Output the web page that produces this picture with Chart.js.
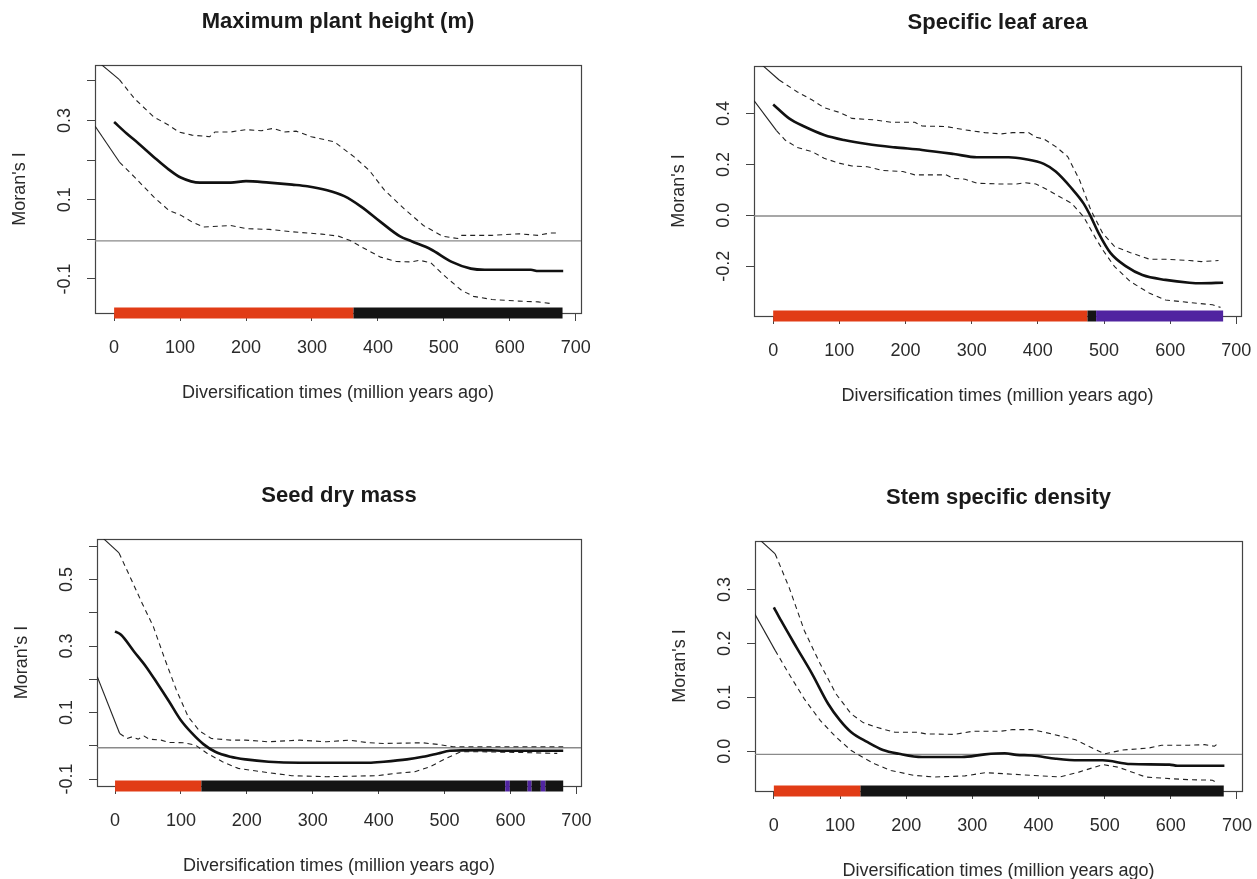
<!DOCTYPE html>
<html>
<head>
<meta charset="utf-8">
<script src="https://cdn.jsdelivr.net/npm/chart.js@4"></script>
<style>
  body { margin: 0; background: #fff; }
  #wrap { position: relative; width: 1257px; height: 879px; overflow: hidden; }
  canvas { position: absolute; }
</style>
</head>
<body>
<div id="wrap">
  <canvas id="c1" width="628" height="440" style="left:0;top:0"></canvas>
  <canvas id="c2" width="629" height="440" style="left:628px;top:0"></canvas>
  <canvas id="c3" width="628" height="439" style="left:0;top:440px"></canvas>
  <canvas id="c4" width="629" height="439" style="left:628px;top:440px"></canvas>
</div>
<script>
/* global Chart */

// ---------------------- Data ----------------------

const titles = ["Maximum plant height (m)", "Specific leaf area", "Seed dry mass", "Stem specific density"];
const xTitle = "Diversification times (million years ago)";
const yTitle = "Moran's I";

const xTicks = [0, 100, 200, 300, 400, 500, 600, 700];
const xTickLabels = ["0", "100", "200", "300", "400", "500", "600", "700"];

const RED = "#e13c16";
const BLACK = "#141414";
const PURPLE = "#5024a0";

// Maximum plant height
const p1MeanX = [0, 19, 37, 60, 83, 101, 130, 177, 200, 235, 270, 293, 323, 349, 375, 404, 433, 451, 480, 512, 541, 562, 632, 643, 681];
const p1MeanY = [0.296, 0.267, 0.242, 0.208, 0.176, 0.156, 0.143, 0.143, 0.147, 0.143, 0.138, 0.134, 0.124, 0.109, 0.082, 0.044, 0.008, -0.005, -0.025, -0.057, -0.074, -0.077, -0.077, -0.080, -0.080];
const p1UpperX = [-30, 8, 31, 60, 83, 98, 118, 145, 153, 177, 200, 223, 241, 258, 276, 299, 334, 364, 387, 410, 440, 469, 498, 521, 527, 573, 614, 643, 661, 676];
const p1UpperY = [0.456, 0.403, 0.355, 0.309, 0.288, 0.271, 0.263, 0.259, 0.271, 0.271, 0.277, 0.274, 0.280, 0.271, 0.273, 0.259, 0.246, 0.208, 0.174, 0.124, 0.077, 0.035, 0.008, 0.002, 0.010, 0.010, 0.014, 0.010, 0.016, 0.016];
const p1LowerX = [-29, 8, 31, 60, 83, 101, 118, 136, 159, 177, 200, 235, 270, 293, 315, 340, 358, 375, 404, 428, 451, 463, 480, 503, 527, 545, 573, 614, 643, 666];
const p1LowerY = [0.286, 0.195, 0.157, 0.107, 0.073, 0.061, 0.044, 0.031, 0.033, 0.035, 0.027, 0.025, 0.019, 0.016, 0.013, 0.008, -0.003, -0.019, -0.045, -0.056, -0.057, -0.053, -0.059, -0.095, -0.129, -0.144, -0.152, -0.156, -0.158, -0.163];
const p1StripBreaks = [0, 363, 680];
const p1StripColors = [RED, BLACK];

// Specific leaf area
const p2MeanX = [0, 24, 47, 77, 107, 142, 184, 225, 273, 308, 356, 380, 409, 427, 451, 469, 480, 492, 510, 534, 558, 593, 629, 647, 680];
const p2MeanY = [0.436, 0.381, 0.349, 0.316, 0.296, 0.280, 0.267, 0.257, 0.241, 0.228, 0.228, 0.221, 0.202, 0.172, 0.106, 0.047, -0.005, -0.071, -0.149, -0.202, -0.235, -0.254, -0.265, -0.267, -0.265];
const p2UpperX = [-29, 9, 36, 59, 77, 101, 119, 154, 178, 214, 225, 261, 290, 320, 344, 362, 386, 397, 409, 427, 445, 463, 480, 498, 516, 540, 569, 593, 629, 647, 673];
const p2UpperY = [0.619, 0.532, 0.486, 0.453, 0.423, 0.404, 0.381, 0.375, 0.366, 0.366, 0.351, 0.349, 0.336, 0.325, 0.320, 0.325, 0.325, 0.307, 0.300, 0.270, 0.231, 0.139, 0.021, -0.071, -0.123, -0.147, -0.173, -0.173, -0.178, -0.182, -0.178];
const p2LowerX = [-29, 5, 18, 36, 59, 77, 101, 119, 142, 166, 196, 214, 231, 261, 273, 290, 308, 344, 368, 380, 397, 415, 433, 451, 469, 486, 498, 516, 540, 569, 593, 629, 664, 676];
const p2LowerY = [0.451, 0.333, 0.296, 0.267, 0.250, 0.224, 0.204, 0.194, 0.191, 0.176, 0.172, 0.159, 0.159, 0.159, 0.145, 0.142, 0.126, 0.123, 0.123, 0.128, 0.123, 0.100, 0.073, 0.047, -0.005, -0.084, -0.136, -0.202, -0.261, -0.307, -0.333, -0.343, -0.352, -0.362];
const p2StripBreaks = [0, 475, 488, 680];
const p2StripColors = [RED, BLACK, PURPLE];

// Seed dry mass
const p3MeanX = [0, 9, 29, 47, 64, 82, 99, 117, 134, 152, 175, 198, 233, 280, 385, 408, 443, 467, 490, 508, 554, 601, 680];
const p3MeanY = [0.344, 0.334, 0.283, 0.238, 0.188, 0.133, 0.079, 0.037, 0.005, -0.018, -0.033, -0.041, -0.048, -0.051, -0.051, -0.048, -0.041, -0.033, -0.023, -0.015, -0.013, -0.015, -0.015];
const p3UpperX = [-30, 6, 26, 41, 58, 76, 93, 111, 128, 146, 175, 198, 233, 280, 321, 356, 385, 408, 467, 490, 513, 554, 680];
const p3UpperY = [0.646, 0.580, 0.494, 0.429, 0.359, 0.258, 0.168, 0.087, 0.045, 0.022, 0.017, 0.017, 0.012, 0.017, 0.012, 0.017, 0.009, 0.007, 0.009, 0.004, -0.003, -0.003, -0.003];
const p3LowerX = [-27, 7, 18, 26, 35, 44, 52, 70, 82, 105, 122, 140, 163, 187, 222, 268, 321, 397, 426, 455, 478, 502, 525, 554, 613, 671];
const p3LowerY = [0.208, 0.037, 0.022, 0.027, 0.020, 0.029, 0.020, 0.017, 0.010, 0.009, 0.002, -0.023, -0.048, -0.068, -0.078, -0.090, -0.093, -0.090, -0.083, -0.078, -0.063, -0.038, -0.018, -0.018, -0.020, -0.023];
const p3StripBreaks = [0, 131, 592, 599, 626, 632, 646, 653, 680];
const p3StripColors = [RED, BLACK, PURPLE, BLACK, PURPLE, BLACK, PURPLE, BLACK];

// Stem specific density
const p4MeanX = [0, 11, 34, 58, 82, 100, 117, 141, 165, 189, 224, 284, 319, 349, 367, 390, 426, 461, 497, 539, 598, 610, 681];
const p4MeanY = [0.267, 0.242, 0.193, 0.143, 0.088, 0.057, 0.035, 0.017, 0.002, -0.005, -0.011, -0.011, -0.006, -0.004, -0.007, -0.008, -0.014, -0.017, -0.017, -0.024, -0.025, -0.027, -0.027];
const p4UpperX = [-29, 2, 23, 46, 70, 94, 117, 135, 153, 183, 218, 230, 272, 301, 343, 361, 390, 420, 456, 479, 500, 527, 568, 586, 628, 651, 666, 669];
const p4UpperY = [0.401, 0.366, 0.304, 0.224, 0.162, 0.106, 0.069, 0.053, 0.045, 0.035, 0.035, 0.032, 0.031, 0.037, 0.037, 0.040, 0.040, 0.032, 0.021, 0.007, -0.005, 0.002, 0.006, 0.011, 0.011, 0.012, 0.009, 0.012];
const p4LowerX = [-29, 2, 23, 46, 70, 94, 117, 135, 153, 177, 212, 242, 289, 319, 349, 390, 432, 461, 497, 521, 562, 598, 628, 663, 669];
const p4LowerY = [0.255, 0.187, 0.143, 0.097, 0.057, 0.026, 0.001, -0.012, -0.024, -0.036, -0.045, -0.048, -0.046, -0.040, -0.042, -0.045, -0.048, -0.039, -0.025, -0.030, -0.048, -0.051, -0.053, -0.054, -0.058];
const p4StripBreaks = [0, 131, 680];
const p4StripColors = [RED, BLACK];

// y axes: ticks, which get labels, and the expected-value line
const p1YTicks = [-0.1, 0, 0.1, 0.2, 0.3, 0.4];
const p1YLabels = { "-0.1": "-0.1", "0.1": "0.1", "0.3": "0.3" };
const p2YTicks = [-0.2, 0, 0.2, 0.4];
const p2YLabels = { "-0.2": "-0.2", "0": "0.0", "0.2": "0.2", "0.4": "0.4" };
const p3YTicks = [-0.1, 0, 0.1, 0.2, 0.3, 0.4, 0.5, 0.6];
const p3YLabels = { "-0.1": "-0.1", "0.1": "0.1", "0.3": "0.3", "0.5": "0.5" };
const p4YTicks = [0, 0.1, 0.2, 0.3];
const p4YLabels = { "0": "0.0", "0.1": "0.1", "0.2": "0.2", "0.3": "0.3" };
const refValues = [-0.004, -0.003, -0.006, -0.006];

// ---------------------- Helpers ----------------------

const FONT = "'Liberation Sans', Arial, Helvetica, sans-serif";
const AXIS_COLOR = "#444";
const pts = (xs, ys) => xs.map((x, i) => ({ x, y: ys[i] }));

// Box, titles and rotated R-style tick labels
const rPlot = {
  id: "rPlot",
  beforeDatasetsDraw(chart) {
    const { ctx, chartArea: a } = chart;
    ctx.save();
    ctx.strokeStyle = AXIS_COLOR;
    ctx.lineWidth = 1.2;
    ctx.strokeRect(a.left + 0.5, a.top + 0.5, a.right - a.left, a.bottom - a.top);
    ctx.restore();
  },
  afterDraw(chart, _args, opts) {
    const { ctx, chartArea: a, scales } = chart;
    ctx.save();
    ctx.fillStyle = "#1a1a1a";
    ctx.textAlign = "center";
    ctx.textBaseline = "middle";

    ctx.font = `bold 22px ${FONT}`;
    ctx.fillText(opts.title, (a.left + a.right) / 2, a.top - 43);

    ctx.fillStyle = "#2a2a2a";
    ctx.font = `18px ${FONT}`;
    xTicks.forEach((v, i) => {
      ctx.fillText(xTickLabels[i], scales.x.getPixelForValue(v), a.bottom + 35);
    });
    ctx.fillText(xTitle, (a.left + a.right) / 2, a.bottom + 80);

    Object.keys(opts.yLabels).forEach(k => {
      const y = scales.y.getPixelForValue(Number(k));
      ctx.save();
      ctx.translate(a.left - 30, y);
      ctx.rotate(-Math.PI / 2);
      ctx.fillText(opts.yLabels[k], 0, 0);
      ctx.restore();
    });
    ctx.save();
    ctx.translate(a.left - 75, (a.top + a.bottom) / 2);
    ctx.rotate(-Math.PI / 2);
    ctx.fillText(yTitle, 0, 0);
    ctx.restore();
    ctx.restore();
  }
};

function drawPanel(id, p) {
  const canvas = document.getElementById(id);
  const W = canvas.width, H = canvas.height;
  const dashFirstSolid = { borderDash: ctx => (ctx.p0DataIndex === 0 ? [] : [5, 4]) };

  new Chart(canvas.getContext("2d"), {
    type: "line",
    data: {
      datasets: [
        {
          data: p.stripBreaks.map(b => ({ x: b, y: p.yMin })),
          borderWidth: 11,
          borderCapStyle: "butt",
          borderColor: p.stripColors[0],
          segment: { borderColor: ctx => p.stripColors[ctx.p0DataIndex] },
          pointRadius: 0,
          clip: false
        },
        {
          data: p.mean,
          borderColor: "#111",
          borderWidth: 2.6,
          cubicInterpolationMode: "monotone",
          pointRadius: 0
        },
        {
          data: p.upper,
          borderColor: "#222",
          borderWidth: 1.1,
          segment: dashFirstSolid,
          pointRadius: 0
        },
        {
          data: p.lower,
          borderColor: "#222",
          borderWidth: 1.1,
          segment: dashFirstSolid,
          pointRadius: 0
        },
        {
          data: [{ x: p.xMin, y: p.ref }, { x: p.xMax, y: p.ref }],
          borderColor: "#8a8a8a",
          borderWidth: 1.4,
          pointRadius: 0
        }
      ]
    },
    options: {
      responsive: false,
      animation: false,
      devicePixelRatio: 1,
      layout: { padding: { left: 0, top: p.box.top, right: W - p.box.right, bottom: 0 } },
      plugins: {
        legend: { display: false },
        tooltip: { enabled: false },
        rPlot: { title: p.title, yLabels: p.yLabels }
      },
      scales: {
        x: {
          type: "linear",
          min: p.xMin,
          max: p.xMax,
          afterBuildTicks: s => { s.ticks = xTicks.map(v => ({ value: v })); },
          afterFit: s => { s.height = H - p.box.bottom; },
          ticks: { display: false },
          grid: { drawOnChartArea: false, drawTicks: true, tickLength: 8, color: AXIS_COLOR },
          border: { display: true, color: AXIS_COLOR }
        },
        y: {
          type: "linear",
          min: p.yMin,
          max: p.yMax,
          afterBuildTicks: s => { s.ticks = p.yTicks.map(v => ({ value: v })); },
          afterFit: s => { s.width = p.box.left; },
          ticks: { display: false },
          grid: { drawOnChartArea: false, drawTicks: true, tickLength: 8, color: AXIS_COLOR },
          border: { display: true, color: AXIS_COLOR }
        }
      }
    },
    plugins: [rPlot]
  });
}

drawPanel("c1", {
  title: titles[0], box: { left: 95, right: 581, top: 65, bottom: 313 },
  xMin: -29, xMax: 708, yMin: -0.186, yMax: 0.44,
  yTicks: p1YTicks, yLabels: p1YLabels, ref: refValues[0],
  mean: pts(p1MeanX, p1MeanY), upper: pts(p1UpperX, p1UpperY), lower: pts(p1LowerX, p1LowerY),
  stripBreaks: p1StripBreaks, stripColors: p1StripColors
});

drawPanel("c2", {
  title: titles[1], box: { left: 126, right: 613, top: 66, bottom: 316 },
  xMin: -29, xMax: 707, yMin: -0.396, yMax: 0.587,
  yTicks: p2YTicks, yLabels: p2YLabels, ref: refValues[1],
  mean: pts(p2MeanX, p2MeanY), upper: pts(p2UpperX, p2UpperY), lower: pts(p2LowerX, p2LowerY),
  stripBreaks: p2StripBreaks, stripColors: p2StripColors
});

drawPanel("c3", {
  title: titles[2], box: { left: 97, right: 581, top: 99, bottom: 346 },
  xMin: -27.4, xMax: 707, yMin: -0.121, yMax: 0.622,
  yTicks: p3YTicks, yLabels: p3YLabels, ref: refValues[2],
  mean: pts(p3MeanX, p3MeanY), upper: pts(p3UpperX, p3UpperY), lower: pts(p3LowerX, p3LowerY),
  stripBreaks: p3StripBreaks, stripColors: p3StripColors
});

drawPanel("c4", {
  title: titles[3], box: { left: 127, right: 614, top: 101, bottom: 351 },
  xMin: -28.5, xMax: 707.6, yMin: -0.074, yMax: 0.39,
  yTicks: p4YTicks, yLabels: p4YLabels, ref: refValues[3],
  mean: pts(p4MeanX, p4MeanY), upper: pts(p4UpperX, p4UpperY), lower: pts(p4LowerX, p4LowerY),
  stripBreaks: p4StripBreaks, stripColors: p4StripColors
});
</script>
</body>
</html>
